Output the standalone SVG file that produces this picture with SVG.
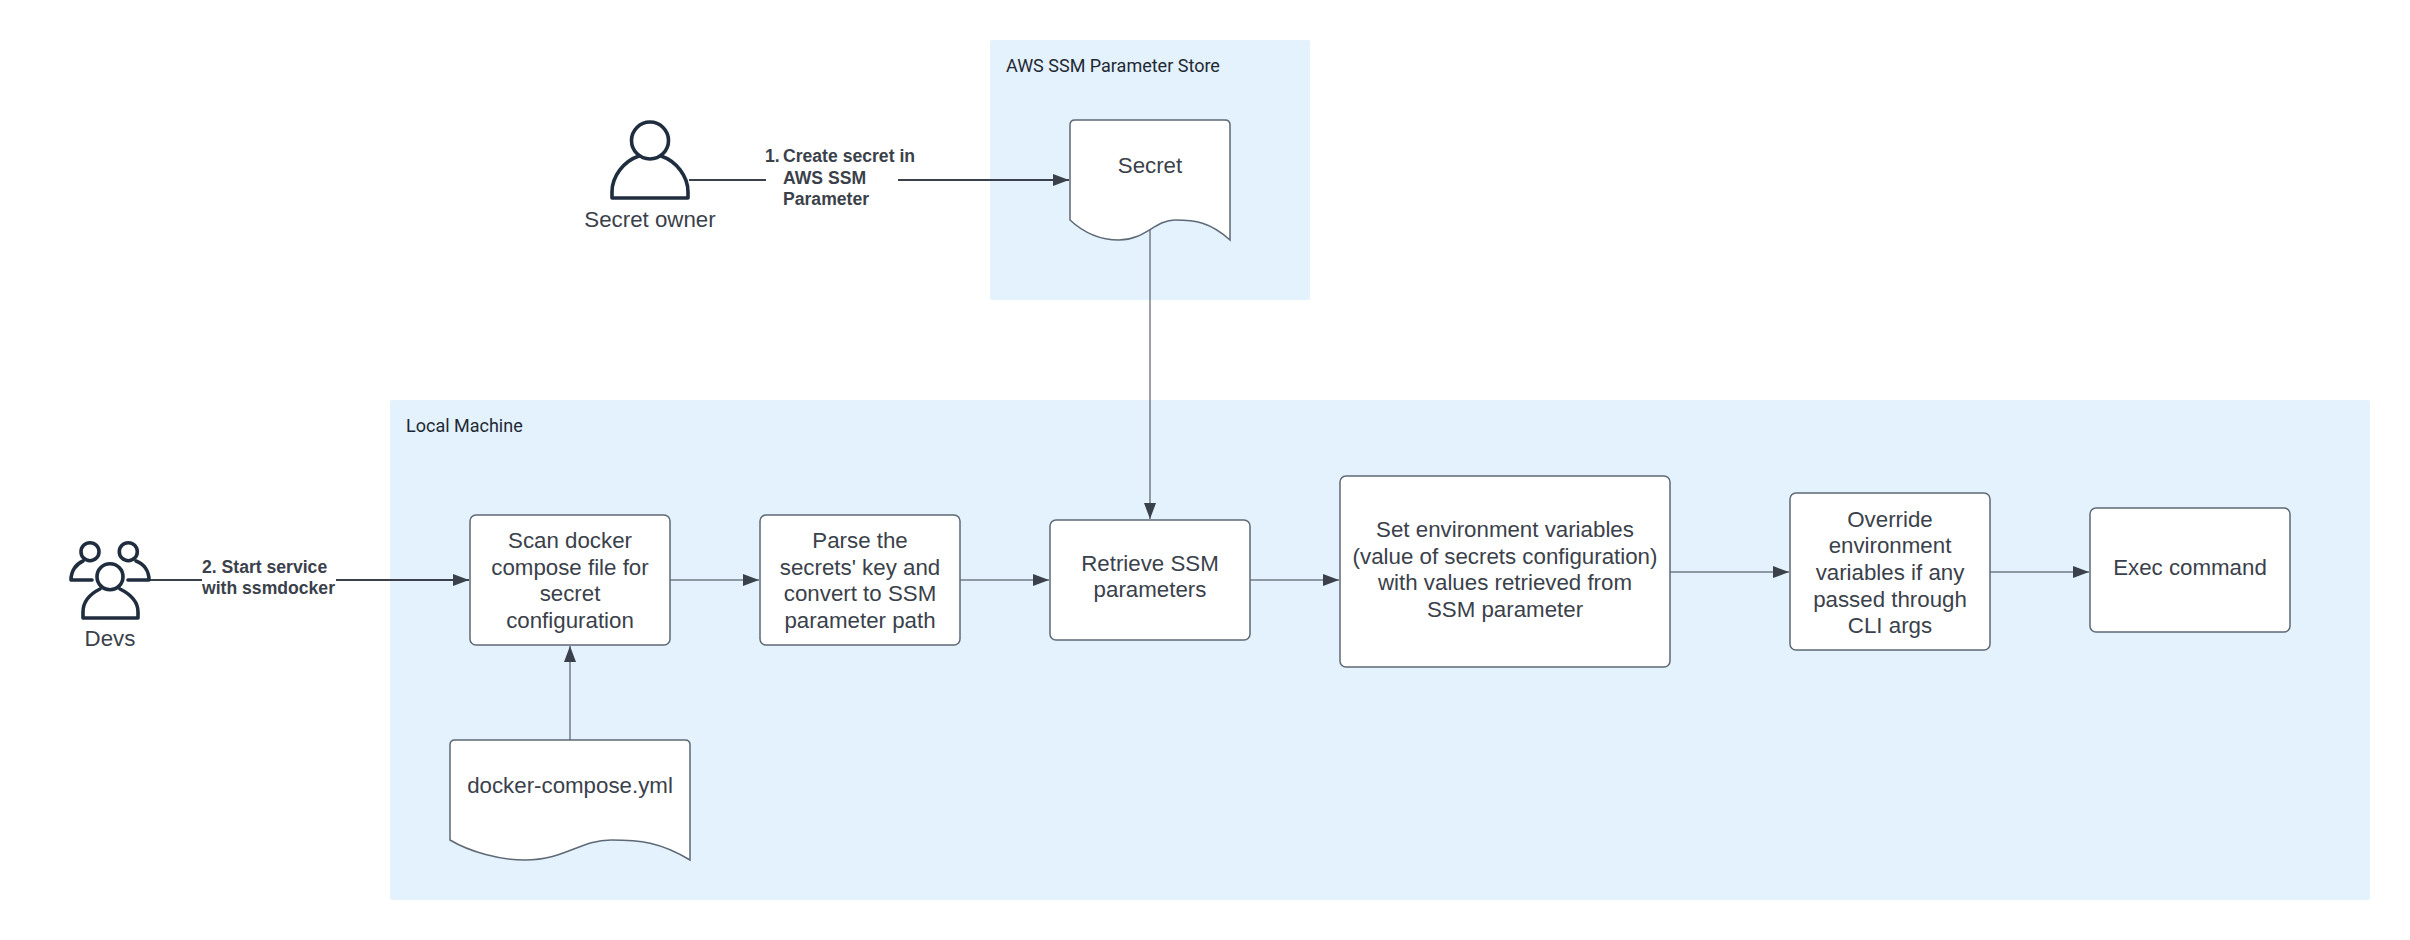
<svg xmlns="http://www.w3.org/2000/svg" width="2410" height="940" viewBox="0 0 2410 940">
<style>
text{font-family:"Liberation Sans",Arial,sans-serif;fill:#3a414a;}
.t{font-size:22.3px;text-anchor:middle;}
.c{font-size:18px;fill:#1f2933;font-family:"Roboto","Liberation Sans",sans-serif;}
.l{font-size:17.6px;font-weight:bold;}
.panel{fill:#e3f2fd;}
.box{fill:#fff;stroke:#5e6976;stroke-width:1.5;}
.icon{fill:none;stroke:#1f2d3f;stroke-width:3.6;stroke-linejoin:round;stroke-linecap:round;}
.e{fill:none;stroke:#3a414a;stroke-width:1;}
.e2{fill:none;stroke:#3a414a;stroke-width:2;}
</style>
<defs>
<marker id="a" markerUnits="userSpaceOnUse" markerWidth="17" markerHeight="14" refX="16" refY="6" orient="auto"><path d="M0 0L16 6L0 12Z" fill="#3a414a"/></marker>
</defs>
<g id="aws-panel"><rect class="panel" x="990" y="40" width="320" height="260" rx="2"/><text class="c" x="1006" y="72">AWS SSM Parameter Store</text></g>
<g id="local-panel"><rect class="panel" x="390" y="400" width="1980" height="500" rx="2"/><text class="c" x="406" y="432">Local Machine</text></g>
<g id="connectors">
<path class="e2" d="M689 180H766" /><path class="e2" d="M898 180H1069" marker-end="url(#a)"/>
<path class="e2" d="M150 580H202"/><path class="e2" d="M336 580H469" marker-end="url(#a)"/>
<path class="e" d="M1150 230V519" marker-end="url(#a)"/>
<path class="e" d="M570 740V646" marker-end="url(#a)"/>
<path class="e" d="M670 580H759" marker-end="url(#a)"/>
<path class="e" d="M960 580H1049" marker-end="url(#a)"/>
<path class="e" d="M1250 580H1339" marker-end="url(#a)"/>
<path class="e" d="M1670 572H1789" marker-end="url(#a)"/>
<path class="e" d="M1990 572H2089" marker-end="url(#a)"/>
</g>
<g id="edge-label-1"><text class="l"><tspan x="765" y="162">1.</tspan><tspan x="783" y="162">Create secret in</tspan><tspan x="783" y="183.500">AWS SSM</tspan><tspan x="783" y="205">Parameter</tspan></text></g>
<g id="edge-label-2"><text class="l"><tspan x="202" y="573">2. Start service</tspan><tspan x="202" y="594">with ssmdocker</tspan></text></g>
<g id="secret-owner"><circle class="icon" cx="650" cy="140.500" r="18.500"/><path class="icon" d="M612 198V192C612 176 624 161 639 156M688 198V192C688 176 676 161 661 156M612 198H688"/><text class="t" x="650" y="227">Secret owner</text></g>
<g id="devs"><circle class="icon" cx="90" cy="551.700" r="9"/><circle class="icon" cx="128.300" cy="551.700" r="9"/><path class="icon" d="M71 580C71 571 76 564 83 561M71 580H92M149 580C149 571 144 564 136 561M149 580H128"/><circle class="icon" cx="110" cy="576.700" r="13"/><path class="icon" d="M83 618V612C83 602 90 594 100 589M138 618V612C138 602 130 594 120 589M83 618H138"/><text class="t" x="110" y="646">Devs</text></g>
<g id="secret"><path class="box" d="M1075 120H1225Q1230 120 1230 125V240C1210 222 1195 220 1175 220C1155 220 1145 240 1119 240C1100 240 1085 234 1070 220V125Q1070 120 1075 120Z"/><text class="t" x="1150" y="173">Secret</text></g>
<g id="docker-compose"><path class="box" d="M455 740H685Q690 740 690 745V860C660 842 640 840 611 840C580 840 565 860 525 860C500 860 470 852 450 840V745Q450 740 455 740Z"/><text class="t" x="570" y="793">docker-compose.yml</text></g>
<g id="scan"><rect class="box" x="470" y="515" width="200" height="130" rx="6"/><text class="t"><tspan x="570" y="548">Scan docker</tspan><tspan x="570" y="575">compose file for</tspan><tspan x="570" y="601">secret</tspan><tspan x="570" y="628">configuration</tspan></text></g>
<g id="parse"><rect class="box" x="760" y="515" width="200" height="130" rx="6"/><text class="t"><tspan x="860" y="548">Parse the</tspan><tspan x="860" y="575">secrets' key and</tspan><tspan x="860" y="601">convert to SSM</tspan><tspan x="860" y="628">parameter path</tspan></text></g>
<g id="retrieve"><rect class="box" x="1050" y="520" width="200" height="120" rx="6"/><text class="t"><tspan x="1150" y="571">Retrieve SSM</tspan><tspan x="1150" y="597">parameters</tspan></text></g>
<g id="set-env"><rect class="box" x="1340" y="476" width="330" height="191" rx="6"/><text class="t"><tspan x="1505" y="537">Set environment variables</tspan><tspan x="1505" y="564">(value of secrets configuration)</tspan><tspan x="1505" y="590">with values retrieved from</tspan><tspan x="1505" y="617">SSM parameter</tspan></text></g>
<g id="override"><rect class="box" x="1790" y="493" width="200" height="157" rx="6"/><text class="t"><tspan x="1890" y="527">Override</tspan><tspan x="1890" y="553">environment</tspan><tspan x="1890" y="580">variables if any</tspan><tspan x="1890" y="607">passed through</tspan><tspan x="1890" y="633">CLI args</tspan></text></g>
<g id="exec"><rect class="box" x="2090" y="508" width="200" height="124" rx="6"/><text class="t" x="2190" y="575">Exec command</text></g>
</svg>
